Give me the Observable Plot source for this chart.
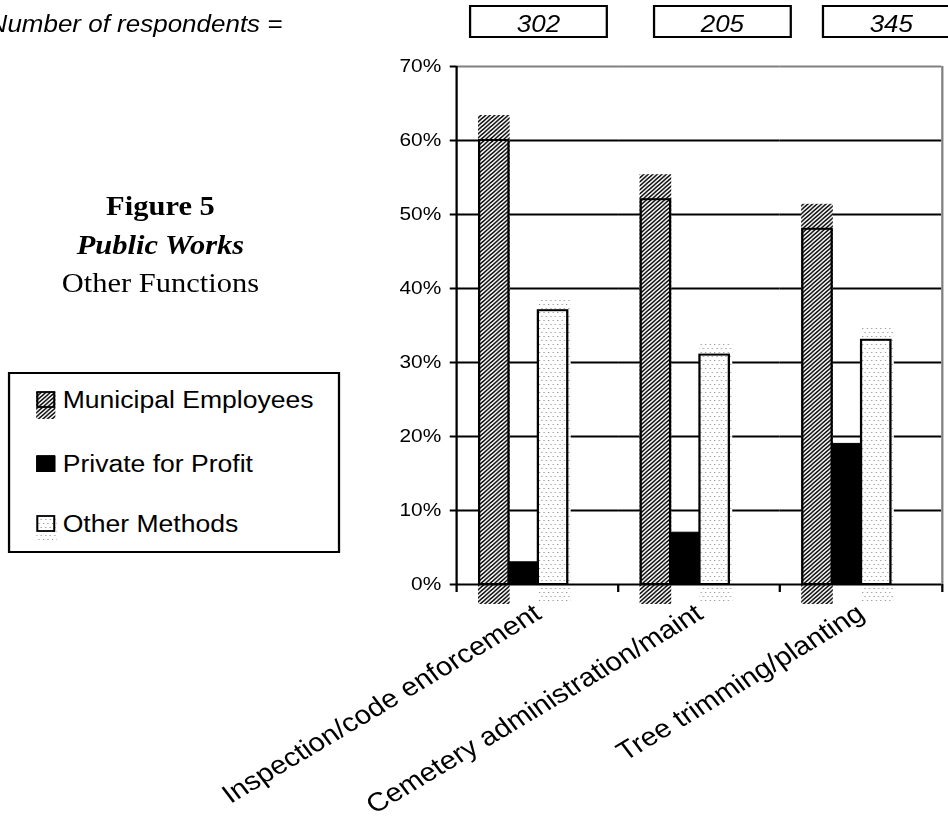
<!DOCTYPE html>
<html>
<head>
<meta charset="utf-8">
<script src="https://cdn.jsdelivr.net/npm/d3@7"></script>
<script src="https://cdn.jsdelivr.net/npm/@observablehq/plot@0.6"></script>
<style>
  html, body { margin: 0; padding: 0; background: #fff; width: 948px; height: 818px; overflow: hidden; }
  #page { position: absolute; left: 0; top: 0; width: 839px; height: 818px;
          transform: scaleX(1.13); transform-origin: 0 0;
          font-family: Arial, "Liberation Sans", sans-serif; }
  #page > svg { position: absolute; left: 0; top: 0; overflow: visible; }
</style>
</head>
<body>
<svg width="0" height="0" style="position:absolute">
  <defs>
    <pattern id="hatch" patternUnits="userSpaceOnUse" width="4" height="4">
      <rect width="4" height="4" fill="white"/>
      <path d="M-1,1 l2,-2 M0,4 l4,-4 M3,5 l2,-2" stroke="black" stroke-width="1.3"/>
    </pattern>
    <pattern id="dots" patternUnits="userSpaceOnUse" width="4" height="8">
      <rect width="4" height="8" fill="white"/>
      <rect x="0" y="0" width="1" height="1" fill="#8a8a8a"/>
      <rect x="2" y="4" width="1" height="1" fill="#8a8a8a"/>
    </pattern>
  </defs>
</svg>
<div id="page"></div>
<script>
// ---- data ----
const categories = ["Inspection/code enforcement", "Cemetery administration/maint", "Tree trimming/planting"];
const seriesNames = ["Municipal Employees", "Private for Profit", "Other Methods"];
const municipal = [60, 52, 48];
const privateProfit = [3, 7, 19];
const otherMethods = [37, 31, 33];
const respondents = [302, 205, 345];
const yTicks = [0, 10, 20, 30, 40, 50, 60, 70];
const gridValues = [10, 20, 30, 40, 50, 60];
const titleLines = ["Figure 5", "Public Works", "Other Functions"];
const respondentsLabel = "Number of respondents =";

// ---- layout (unscaled coordinates; page is stretched by 1.13 horizontally) ----
const W = 839, H = 818;
const mL = 403, mR = 4.5, mT = 66, mB = 234;
const facetW = (W - mL - mR) / 3;

const rows = categories.flatMap((c, i) => [
  {category: c, series: seriesNames[0], value: municipal[i]},
  {category: c, series: seriesNames[1], value: privateProfit[i]},
  {category: c, series: seriesNames[2], value: otherMethods[i]}
]);
const mun = rows.filter(d => d.series === seriesNames[0]);
const pri = rows.filter(d => d.series === seriesNames[1]);
const oth = rows.filter(d => d.series === seriesNames[2]);

const chart = Plot.plot({
  width: W, height: H,
  marginLeft: mL, marginRight: mR, marginTop: mT, marginBottom: mB,
  style: {fontFamily: 'Arial, "Liberation Sans", sans-serif', color: "black", background: "transparent"},
  fx: {domain: categories, padding: 0, label: null},
  x: {domain: seriesNames, paddingInner: 0, paddingOuter: 1.217, align: 0.31, axis: null},
  y: {domain: [0, 70], axis: null},
  marks: [
    Plot.ruleY(gridValues, {stroke: "black", strokeWidth: 2}),
    Plot.ruleY([70], {stroke: "#808080", strokeWidth: 2}),
    // pattern fills (slightly misregistered as in the original)
    Plot.barY(mun, {fx: "category", x: "series", y: "value", fill: "url(#hatch)",
      insetTop: -25, insetBottom: -20, insetLeft: -1, insetRight: -1}),
    Plot.barY(oth, {fx: "category", x: "series", y: "value", fill: "url(#dots)",
      insetTop: -12, insetBottom: -19, insetRight: -3}),
    // bar outlines
    Plot.barY(mun, {fx: "category", x: "series", y: "value", fill: "none", stroke: "black", strokeWidth: 2}),
    Plot.barY(pri, {fx: "category", x: "series", y: "value", fill: "black", stroke: "black", strokeWidth: 1}),
    Plot.barY(oth, {fx: "category", x: "series", y: "value", fill: "none", stroke: "black", strokeWidth: 2}),
    // x axis line
    Plot.ruleY([0], {stroke: "black", strokeWidth: 2}),
    // category boundary ticks
    Plot.ruleX([0], {x: null, y1: 0, y2: 0, insetBottom: -8, dx: -facetW / 2, stroke: "black", strokeWidth: 2}),
    Plot.ruleX([0], {x: null, y1: 0, y2: 0, insetBottom: -8, dx: facetW / 2, stroke: "black", strokeWidth: 2, facetAnchor: "right"}),
    // right border
    Plot.ruleX([0], {x: null, y1: 0, y2: 70, dx: facetW / 2, stroke: "#808080", strokeWidth: 2, facetAnchor: "right"}),
    // y axis line
    Plot.ruleX([0], {x: null, y1: 0, y2: 70, dx: -facetW / 2, stroke: "black", strokeWidth: 2, facetAnchor: "left"}),
    Plot.axisY(yTicks, {tickFormat: d => d + "%", tickSize: 6, tickPadding: 8, fontSize: 18.5,
      strokeWidth: 2, label: null}),
    Plot.axisFx({anchor: "bottom", tickRotate: -34, tickSize: 0, tickPadding: 26, fontSize: 26, label: null})
  ]
});
document.getElementById("page").appendChild(chart);

// ---- annotations: respondents, title ----
const ann = d3.select("#page").append("svg")
  .attr("width", W).attr("height", H)
  .style("pointer-events", "none");

ann.append("text")
  .attr("x", 250).attr("y", 32)
  .attr("text-anchor", "end")
  .attr("font-style", "italic").attr("font-size", 23)
  .text(respondentsLabel);

const boxLeft = [416, 578.8, 728.3];
const boxW = 121;
const boxes = ann.selectAll("g.box").data(respondents).join("g").attr("class", "box");
boxes.append("rect")
  .attr("x", (d, i) => boxLeft[i]).attr("y", 6)
  .attr("width", boxW).attr("height", 31)
  .attr("fill", "white").attr("stroke", "black").attr("stroke-width", 2);
boxes.append("text")
  .attr("x", (d, i) => boxLeft[i] + boxW / 2).attr("y", 32)
  .attr("text-anchor", "middle")
  .attr("font-style", "italic").attr("font-size", 23)
  .text(d => d);

const titleY = [215, 254, 292];
const titleStyle = [{w: "bold", s: "normal"}, {w: "bold", s: "italic"}, {w: "normal", s: "normal"}];
ann.selectAll("text.title").data(titleLines).join("text")
  .attr("class", "title")
  .attr("x", 142).attr("y", (d, i) => titleY[i])
  .attr("text-anchor", "middle")
  .attr("font-family", '"Times New Roman", "Liberation Serif", serif')
  .attr("font-size", 27)
  .attr("font-weight", (d, i) => titleStyle[i].w)
  .attr("font-style", (d, i) => titleStyle[i].s)
  .text(d => d);

// ---- legend ----
const lg = d3.select("#page").append("svg")
  .attr("width", 296).attr("height", 183)
  .style("left", "6px").style("top", "371px");
lg.append("rect").attr("x", 2).attr("y", 2).attr("width", 292).attr("height", 179)
  .attr("fill", "white").attr("stroke", "black").attr("stroke-width", 2);
const legFill = ["url(#hatch)", "black", "url(#dots)"];
const legBase = [37, 101, 161];
const legExt = [{b: 11, r: 0}, {b: 0, r: 0}, {b: 10, r: 1.5}];
const items = lg.selectAll("g.item").data(seriesNames).join("g").attr("class", "item");
items.append("rect")
  .attr("x", 26).attr("y", (d, i) => legBase[i] - 16)
  .attr("width", (d, i) => 17 + legExt[i].r).attr("height", (d, i) => 16 + legExt[i].b)
  .attr("fill", (d, i) => legFill[i]);
items.append("rect")
  .attr("x", 27).attr("y", (d, i) => legBase[i] - 16)
  .attr("width", 15).attr("height", 15)
  .attr("fill", (d, i) => i === 1 ? "black" : "none")
  .attr("stroke", "black").attr("stroke-width", 1.8);
items.append("text")
  .attr("x", 49.5).attr("y", (d, i) => legBase[i])
  .attr("font-size", 23.5)
  .text(d => d);
</script>
</body>
</html>
